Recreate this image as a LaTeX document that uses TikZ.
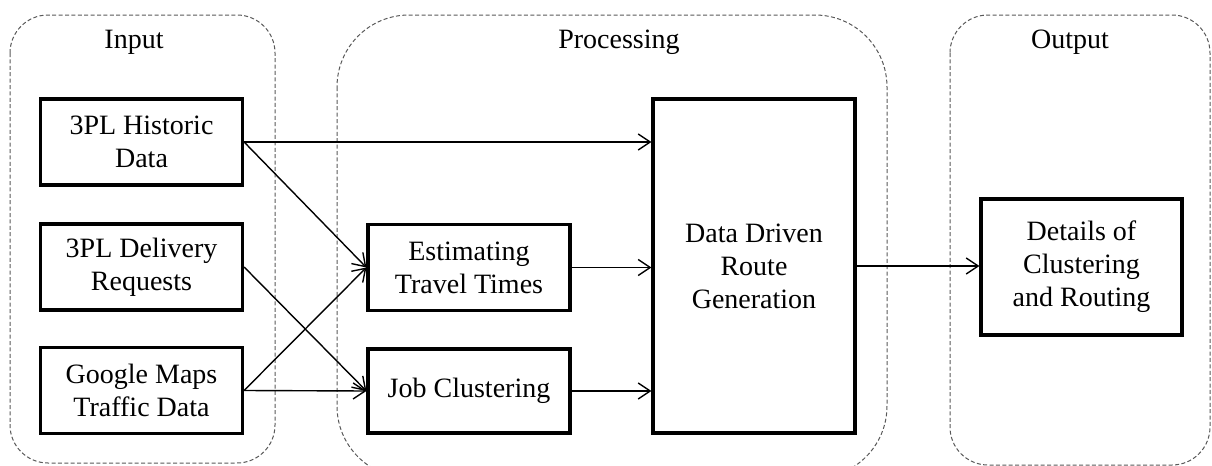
\documentclass[tikz,border=0pt]{standalone}
\usepackage{fontspec}
\setmainfont{Liberation Serif}
\usetikzlibrary{arrows.meta}
\begin{document}
\begin{tikzpicture}[x=0.5pt,y=-0.5pt,
  panel/.style={draw=black!65, line width=0.5pt, dash pattern=on 2pt off 1.2pt},
  box/.style={draw, line width=1.6pt, align=center, inner sep=0pt,
    font=\fontsize{14}{16.5}\selectfont, minimum width=101pt},
  lbl/.style={font=\fontsize{14}{16.5}\selectfont, inner sep=0pt},
  arr/.style={line width=0.7pt, -{Straight Barb[length=6pt,width=8pt]}}]
\useasboundingbox (0,0) rectangle (1212,466);
\begin{scope}
\clip (0,0) rectangle (1212,466);
\draw[panel, rounded corners=19pt] (10,15) rectangle (275,463);
\draw[panel, rounded corners=36pt] (337,15) rectangle (887,478);
\draw[panel, rounded corners=19pt] (950,15) rectangle (1210,465);
\end{scope}
\node[lbl] (tin) at (134,42) {Input};
\node[lbl] (tproc) at (619,42) {Processing};
\node[lbl] (tout) at (1070,42) {Output};
\node[box, minimum height=43pt] (hist) at (141.5,142) {3PL Historic\\Data};
\node[box, minimum height=43pt] (deliv) at (141.5,267) {3PL Delivery\\Requests};
\node[box, minimum height=43pt] (goog) at (141.5,390.5) {Google Maps\\Traffic Data};
\node[box, minimum height=43pt] (est) at (469,267.5) {Estimating\\Travel Times};
\node[box, minimum height=42pt] (job) at (469,391) {Job Clustering};
\node[box, minimum height=167pt] (ddrg) at (754,266) {Data Driven\\Route\\Generation};
\node[box, minimum width=100.5pt, minimum height=68pt] (det) at (1081.5,267) {Details of\\Clustering\\and Routing};
\draw[arr] (hist.east) -- (hist.east -| ddrg.west);
\draw[arr] (hist.east) -- (est.west);
\draw[arr] (deliv.east) -- (job.west);
\draw[arr] (goog.east) -- (est.west);
\draw[arr] (goog.east) -- (job.west);
\draw[arr] (est.east) -- (est.east -| ddrg.west);
\draw[arr] (job.east) -- (job.east -| ddrg.west);
\draw[arr] (ddrg.east) -- (ddrg.east -| det.west);
\end{tikzpicture}
\end{document}
